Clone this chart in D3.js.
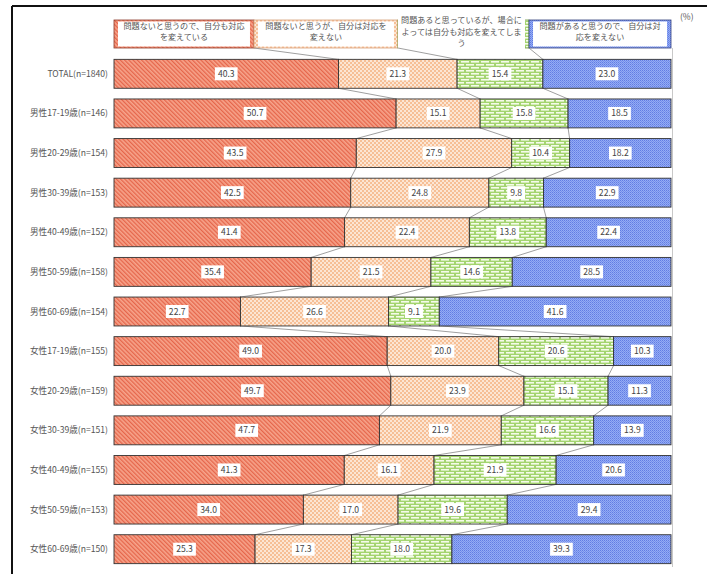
<!DOCTYPE html>
<html>
<head>
<meta charset="utf-8">
<script src="https://cdn.jsdelivr.net/npm/d3@7"></script>
<style>
  html, body { margin: 0; padding: 0; background: #fff; }
  svg { display: block; font-family: "Noto Sans CJK JP", "Noto Sans", sans-serif; }
</style>
</head>
<body>
<svg id="chart" width="707" height="574"></svg>
<script>
// Row labels (top to bottom)
const categories = [
  "TOTAL(n=1840)",
  "男性17-19歳(n=146)",
  "男性20-29歳(n=154)",
  "男性30-39歳(n=153)",
  "男性40-49歳(n=152)",
  "男性50-59歳(n=158)",
  "男性60-69歳(n=154)",
  "女性17-19歳(n=155)",
  "女性20-29歳(n=159)",
  "女性30-39歳(n=151)",
  "女性40-49歳(n=155)",
  "女性50-59歳(n=153)",
  "女性60-69歳(n=150)"
];

// Series names (legend text, with line breaks)
const seriesNames = [
  ["問題ないと思うので、自分も対応", "を変えている"],
  ["問題ないと思うが、自分は対応を", "変えない"],
  ["問題あると思っているが、場合に", "よっては自分も対応を変えてしま", "う"],
  ["問題があると思うので、自分は対", "応を変えない"]
];

// Percentages per series, one value per category
const seriesA = [40.3, 50.7, 43.5, 42.5, 41.4, 35.4, 22.7, 49.0, 49.7, 47.7, 41.3, 34.0, 25.3];
const seriesB = [21.3, 15.1, 27.9, 24.8, 22.4, 21.5, 26.6, 20.0, 23.9, 21.9, 16.1, 17.0, 17.3];
const seriesC = [15.4, 15.8, 10.4,  9.8, 13.8, 14.6,  9.1, 20.6, 15.1, 16.6, 21.9, 19.6, 18.0];
const seriesD = [23.0, 18.5, 18.2, 22.9, 22.4, 28.5, 41.6, 10.3, 11.3, 13.9, 20.6, 29.4, 39.3];

const unitLabel = "(%)";

// ---- build table for stacking ----
const keys = ["a", "b", "c", "d"];
const allSeries = [seriesA, seriesB, seriesC, seriesD];
const table = categories.map((c, i) => {
  const row = { cat: c };
  keys.forEach((k, j) => row[k] = allSeries[j][i]);
  return row;
});
const stacked = d3.stack().keys(keys).offset(d3.stackOffsetExpand)(table);

const svg = d3.select("#chart");

// ---- patterns ----
const defs = svg.append("defs");

// salmon diagonal hatch
const pA = defs.append("pattern").attr("id", "pA").attr("patternUnits", "userSpaceOnUse")
  .attr("width", 3).attr("height", 3).attr("patternTransform", "rotate(-45)");
pA.append("rect").attr("width", 3).attr("height", 3).attr("fill", "#f7a48b");
pA.append("rect").attr("width", 1.3).attr("height", 3).attr("fill", "#e5664b");

// peach checker
const pB = defs.append("pattern").attr("id", "pB").attr("patternUnits", "userSpaceOnUse")
  .attr("width", 4).attr("height", 4);
pB.append("rect").attr("width", 4).attr("height", 4).attr("fill", "#fce6d4");
pB.append("rect").attr("width", 2).attr("height", 2).attr("fill", "#f6bf96");
pB.append("rect").attr("x", 2).attr("y", 2).attr("width", 2).attr("height", 2).attr("fill", "#f6bf96");

// green brick
const pC = defs.append("pattern").attr("id", "pC").attr("patternUnits", "userSpaceOnUse")
  .attr("width", 10).attr("height", 6);
pC.append("rect").attr("width", 10).attr("height", 6).attr("fill", "#a3d46f");
pC.append("rect").attr("x", 1).attr("y", 1).attr("width", 8).attr("height", 1.6).attr("fill", "#f4fbe9");
pC.append("rect").attr("x", 6).attr("y", 4).attr("width", 8).attr("height", 1.6).attr("fill", "#f4fbe9");
pC.append("rect").attr("x", -4).attr("y", 4).attr("width", 8).attr("height", 1.6).attr("fill", "#f4fbe9");

// blue fine checker
const pD = defs.append("pattern").attr("id", "pD").attr("patternUnits", "userSpaceOnUse")
  .attr("width", 2).attr("height", 2);
pD.append("rect").attr("width", 2).attr("height", 2).attr("fill", "#95abf5");
pD.append("rect").attr("width", 1).attr("height", 1).attr("fill", "#617de3");
pD.append("rect").attr("x", 1).attr("y", 1).attr("width", 1).attr("height", 1).attr("fill", "#7490ea");

const fills = ["url(#pA)", "url(#pB)", "url(#pC)", "url(#pD)"];
const edgeColors = ["#8a3a2a", "#d6a07a", "#6f9a40", "#33407a"];

// ---- frame ----
svg.append("line").attr("x1", 12).attr("x2", 707).attr("y1", 6).attr("y2", 6)
  .attr("stroke", "#111").attr("stroke-width", 2);
svg.append("line").attr("x1", 12).attr("x2", 12).attr("y1", 6).attr("y2", 574)
  .attr("stroke", "#111").attr("stroke-width", 2);

// ---- scales ----
const x = d3.scaleLinear().domain([0, 1]).range([114, 671]);
const y = d3.scaleBand().domain(categories).range([54, 569]).paddingInner(0.27).paddingOuter(0.135);

// plot-area right border
svg.append("line").attr("x1", 672.5).attr("x2", 672.5).attr("y1", 48).attr("y2", 567)
  .attr("stroke", "#c8c8c8").attr("stroke-width", 1);

// ---- legend ----
const legendTop = 20, legendBottom = 48;
const legendFrac = [0, 0.2513, 0.5098, 0.7451, 1];
const legendX = legendFrac.map(f => x(f));
const legend = svg.append("g");
seriesNames.forEach((lines, i) => {
  const x0 = legendX[i], x1 = legendX[i + 1];
  legend.append("rect").attr("x", x0).attr("y", legendTop).attr("width", x1 - x0)
    .attr("height", legendBottom - legendTop).attr("fill", fills[i])
    .attr("stroke", edgeColors[i]).attr("stroke-width", 0.8);
  const three = lines.length > 2;
  const bx = x0 + 4, bw = x1 - x0 - 8;
  const by = three ? 17 : legendTop + 1.5;
  const bh = three ? 37 : legendBottom - legendTop - 3;
  legend.append("rect").attr("x", three ? x0 : bx).attr("y", by)
    .attr("width", three ? bw + 4 : bw).attr("height", bh).attr("fill", "#fff");
  const cx = three ? x0 + (bw + 4) / 2 : x0 + (x1 - x0) / 2;
  const lh = 11.5;
  const startY = three ? 23 : 28.5;
  lines.forEach((t, k) => {
    legend.append("text").attr("x", cx).attr("y", startY + k * lh)
      .attr("text-anchor", "middle").attr("font-size", 8.1).attr("fill", "#555")
      .text(t);
  });
});
svg.append("text").attr("x", 680).attr("y", 20).attr("font-size", 8.5).attr("fill", "#555")
  .text(unitLabel);

// ---- connector lines between stacked boundaries ----
const conn = svg.append("g").attr("stroke", "#888").attr("stroke-width", 0.8).attr("fill", "none");
for (let k = 0; k < 3; k++) {
  const s = stacked[k];
  // legend boundary to first bar
  conn.append("line")
    .attr("x1", legendX[k + 1]).attr("y1", legendBottom)
    .attr("x2", x(s[0][1])).attr("y2", y(categories[0]));
  for (let i = 0; i < categories.length - 1; i++) {
    conn.append("line")
      .attr("x1", x(s[i][1])).attr("y1", y(categories[i]) + y.bandwidth())
      .attr("x2", x(s[i + 1][1])).attr("y2", y(categories[i + 1]));
  }
}

// ---- bars ----
const groups = svg.append("g").selectAll("g").data(stacked).join("g")
  .attr("fill", (d, i) => fills[i]);
groups.selectAll("rect").data(d => d).join("rect")
  .attr("x", d => x(d[0]))
  .attr("y", d => y(d.data.cat))
  .attr("width", d => x(d[1]) - x(d[0]))
  .attr("height", y.bandwidth())
  .attr("stroke", "#333").attr("stroke-width", 0.9);

// ---- value labels ----
const labels = svg.append("g").attr("font-size", 8.6).attr("fill", "#444");
stacked.forEach((s, k) => {
  s.forEach((d, i) => {
    const cx = (x(d[0]) + x(d[1])) / 2;
    const cy = y(d.data.cat) + y.bandwidth() / 2;
    const txt = d3.format(".1f")(allSeries[k][i]);
    const g = labels.append("g");
    const t = g.append("text").attr("x", cx).attr("y", cy + 3)
      .attr("text-anchor", "middle").text(txt);
    const w = t.node().getComputedTextLength();
    g.insert("rect", "text").attr("x", cx - w / 2 - 3).attr("y", cy - 6.5)
      .attr("width", w + 6).attr("height", 13).attr("fill", "#fff");
  });
});

// ---- category labels ----
svg.append("g").selectAll("text").data(categories).join("text")
  .attr("x", 108).attr("y", d => y(d) + y.bandwidth() / 2 + 3)
  .attr("text-anchor", "end").attr("font-size", 8.6).attr("fill", "#555")
  .text(d => d);
</script>
</body>
</html>
